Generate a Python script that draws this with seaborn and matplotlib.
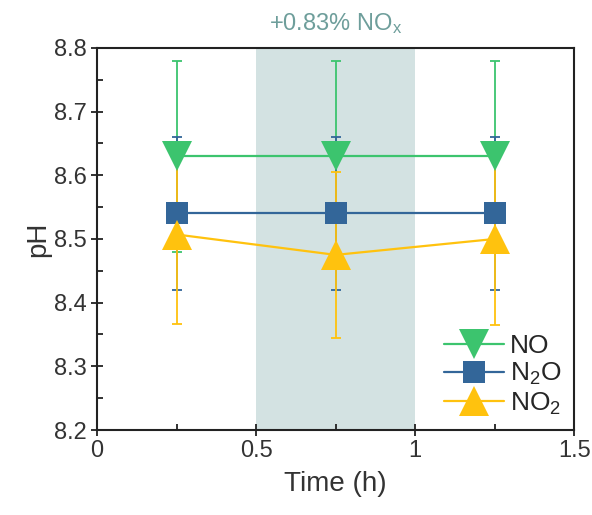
import matplotlib
matplotlib.use("Agg")
import matplotlib.pyplot as plt
from matplotlib.lines import Line2D
import seaborn as sns
import pandas as pd

# pH over time for each gas, mean ± error
time_h = [0.25, 0.75, 1.25]
series = ["NO", "N$_2$O", "NO$_2$"]
ph_no = [8.63, 8.63, 8.63]
err_no = [0.15, 0.15, 0.15]
ph_n2o = [8.54, 8.54, 8.54]
err_n2o = [0.12, 0.12, 0.12]
ph_no2 = [8.507, 8.475, 8.50]
err_no2 = [0.14, 0.13, 0.135]

colors = ["#3CC46E", "#336699", "#FFC20E"]
markers = ["v", "s", "^"]
msizes = [21, 16, 21]

sns.set_theme(style="ticks")
plt.rcParams["font.family"] = ["Liberation Sans", "DejaVu Sans"]
plt.rcParams["mathtext.default"] = "regular"

df = pd.DataFrame({
    "Time": time_h * 3,
    "pH": ph_no + ph_n2o + ph_no2,
    "err": err_no + err_n2o + err_no2,
    "gas": [s for s in series for _ in time_h],
})

fig = plt.figure(figsize=(5.92, 5.15), dpi=100)
ax = fig.add_axes([0.164, 0.165, 0.806, 0.742])

ax.axvspan(0.5, 1.0, color="#D3E2E2", zorder=0, lw=0)

for g, c in zip(series, colors):
    d = df[df["gas"] == g]
    ax.errorbar(d["Time"], d["pH"], yerr=d["err"], fmt="none", ecolor=c,
                elinewidth=1.3, capsize=3.5, capthick=1.3, zorder=2)

for g, c, m, ms in zip(series, colors, markers, msizes):
    d = df[df["gas"] == g]
    sns.lineplot(data=d, x="Time", y="pH", color=c, marker=m,
                 markersize=ms, markeredgewidth=0, linewidth=1.6,
                 ax=ax, zorder=3, legend=False, errorbar=None)

handles = [Line2D([], [], color=c, marker=m, markersize=ms, lw=1.6,
                  markeredgewidth=0)
           for c, m, ms in zip(colors, markers, msizes)]
ax.legend(handles, series, loc="lower right", frameon=False, fontsize=19,
          handlelength=2.3, handletextpad=0.2, labelspacing=0.12,
          borderaxespad=0.1)

ax.set_xlim(0, 1.5)
ax.set_ylim(8.2, 8.8)
ax.set_xticks([0, 0.5, 1, 1.5])
ax.set_xticklabels(["0", "0.5", "1", "1.5"])
ax.set_yticks([8.2, 8.3, 8.4, 8.5, 8.6, 8.7, 8.8])
ax.set_xticks([0.25, 0.75, 1.25], minor=True)
ax.set_yticks([8.25, 8.35, 8.45, 8.55, 8.65, 8.75], minor=True)
ax.tick_params(axis="both", which="major", direction="inout", length=8,
               width=1.3, labelsize=17, colors="#222222", labelcolor="#333333")
ax.tick_params(axis="both", which="minor", direction="in", length=4,
               width=1.3, colors="#222222")
for sp in ax.spines.values():
    sp.set_visible(True)
    sp.set_linewidth(1.5)
    sp.set_color("#222222")

ax.set_xlabel("Time (h)", fontsize=20, color="#333333", labelpad=6)
ax.set_ylabel("pH", fontsize=20, color="#333333", labelpad=2)
ax.set_title("+0.83% NO$_x$", fontsize=17, color="#6E9E9B", pad=13)

fig.savefig("out.png", dpi=100)
